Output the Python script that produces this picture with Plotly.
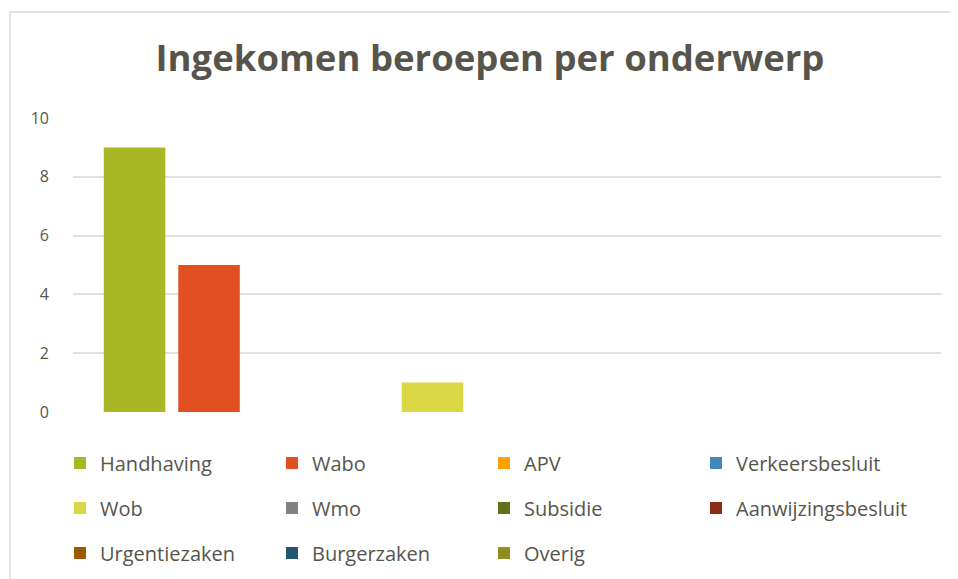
import plotly.graph_objects as go

series = ["Handhaving", "Wabo", "APV", "Verkeersbesluit", "Wob", "Wmo",
          "Subsidie", "Aanwijzingsbesluit", "Urgentiezaken", "Burgerzaken", "Overig"]
values = [9, 5, 0, 0, 1, 0, 0, 0, 0, 0, 0]
colors = ["#A8B824", "#E25022", "#FFA20A", "#3E89B9", "#DBD643", "#808080",
          "#637019", "#8C2C14", "#9B5B04", "#235470", "#8F8D20"]
y_ticks = [0, 2, 4, 6, 8, 10]
title = "Ingekomen beroepen per onderwerp"

OFF = 8  # page body margin
W, H = 958 - OFF, 579 - OFF
L, R, T, B = 73 - OFF, 17, 118 - OFF, 167
pw, ph = W - L - R, H - T - B

def px_x(p):
    return (p - OFF - L) / pw

def px_y(p):
    return (H - B - (p - OFF)) / ph

legend_rows = ["legend", "legend2", "legend3"]
fig = go.Figure()
for i, (name, v, c) in enumerate(zip(series, values, colors)):
    fig.add_trace(go.Bar(x=[""], y=[v], name=name, marker=dict(color=c, line=dict(width=0)),
                         legend=legend_rows[i // 4]))

font_family = "'Open Sans', Lato, sans-serif"
txt = "#57554B"

def leg(row_y):
    return dict(orientation="h", x=px_x(60), xanchor="left", y=px_y(row_y), yanchor="middle",
                entrywidth=167, entrywidthmode="pixels", bgcolor="rgba(0,0,0,0)",
                font=dict(family=font_family, size=20, color=txt), traceorder="normal")

fig.update_layout(
    width=W, height=H,
    margin=dict(l=L, r=R, t=T, b=B, autoexpand=False),
    paper_bgcolor="white", plot_bgcolor="white",
    barmode="group", bargap=0.056, bargroupgap=0.174,
    title=dict(text="<b>" + title + "</b>", x=(490 - OFF) / W, xanchor="center",
               y=1 - (58 - OFF) / H, yanchor="middle",
               font=dict(family=font_family, size=36.5, color=txt)),
    xaxis=dict(showticklabels=False, showgrid=False, zeroline=False, showline=False),
    yaxis=dict(range=[0, 10], tickvals=y_ticks, showgrid=True, gridcolor="#E2E1DD", gridwidth=1.5,
               zeroline=False, showline=False, ticks="", ticklabelstandoff=23,
               tickfont=dict(family=font_family, size=16, color=txt)),
    legend=leg(463), legend2=leg(508), legend3=leg(553),
    shapes=[dict(type="rect", xref="paper", yref="paper", x0=px_x(10), x1=px_x(1000),
                 y0=px_y(700), y1=px_y(12), line=dict(color="#DCDCDC", width=1.5),
                 fillcolor="rgba(0,0,0,0)", layer="below")],
)
fig.write_html("out.html")
